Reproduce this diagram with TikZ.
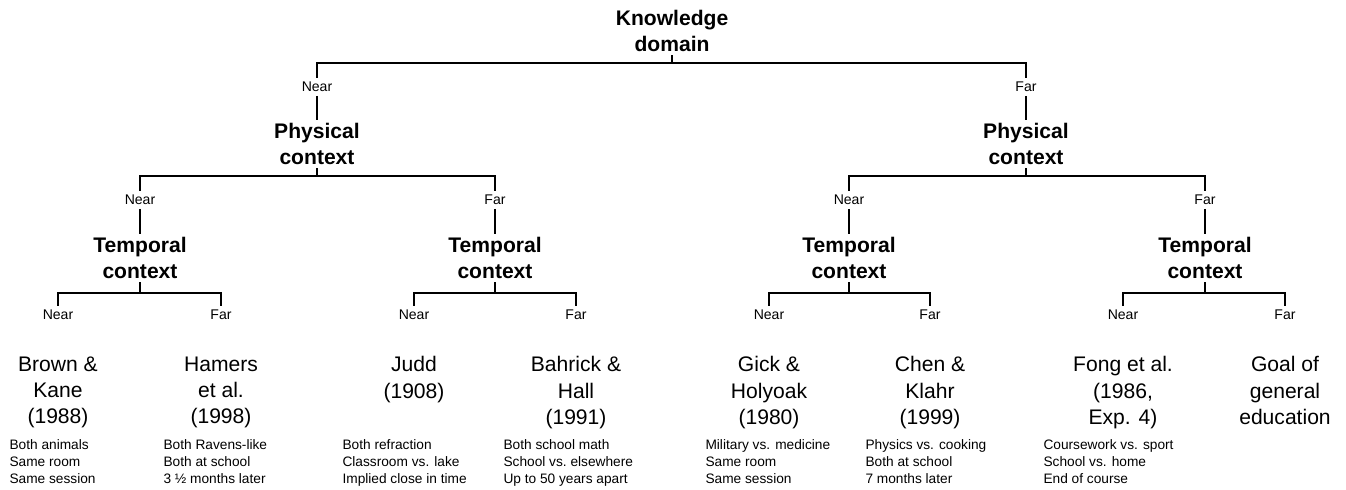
\documentclass[tikz,border=0pt]{standalone}
\usepackage{fontspec}
\setmainfont{Liberation Sans}
\usepackage{tikz}

\begin{document}
\begin{tikzpicture}[x=0.02cm, y=-0.02cm, line width=0.6pt,
    factor/.style={align=center, inner sep=2pt, font=\bfseries\fontsize{12}{14.4}\selectfont},
    branch/.style={inner sep=2pt, font=\fontsize{8}{9.6}\selectfont},
    study/.style={align=center, anchor=north, inner sep=0pt, font=\fontsize{12}{15}\selectfont},
    note/.style={align=left, anchor=north west, inner sep=0pt, font=\fontsize{7.8}{9.6}\selectfont}]
    \useasboundingbox (0,0) rectangle (1346,490);

    % Knowledge domain
    \node[factor] (know) at (672,31) {Knowledge\\domain};
    \node[branch] (nearA) at (317,87) {Near};
    \node[branch] (farA) at (1026,87) {Far};
    \draw (know.south) -- (know.south |- 0,63) -| (nearA.north);
    \draw (know.south) -- (know.south |- 0,63) -| (farA.north);

    % Physical context
    \node[factor] (physN) at (317,144) {Physical\\context};
    \node[factor] (physF) at (1026,144) {Physical\\context};
    \draw (nearA) -- (physN);
    \draw (farA) -- (physF);

    \node[branch] (nearB1) at (140,200) {Near};
    \node[branch] (farB1) at (495,200) {Far};
    \node[branch] (nearB2) at (849,200) {Near};
    \node[branch] (farB2) at (1205,200) {Far};
    \draw (physN.south) -- (physN.south |- 0,176) -| (nearB1.north);
    \draw (physN.south) -- (physN.south |- 0,176) -| (farB1.north);
    \draw (physF.south) -- (physF.south |- 0,176) -| (nearB2.north);
    \draw (physF.south) -- (physF.south |- 0,176) -| (farB2.north);

    % Temporal context
    \node[factor] (temp1) at (140,258) {Temporal\\context};
    \node[factor] (temp2) at (495,258) {Temporal\\context};
    \node[factor] (temp3) at (849,258) {Temporal\\context};
    \node[factor] (temp4) at (1205,258) {Temporal\\context};
    \draw (nearB1) -- (temp1);
    \draw (farB1) -- (temp2);
    \draw (nearB2) -- (temp3);
    \draw (farB2) -- (temp4);

    \node[branch] (near1) at (58,315) {Near};
    \node[branch] (far1) at (221,315) {Far};
    \node[branch] (near2) at (414,315) {Near};
    \node[branch] (far2) at (576,315) {Far};
    \node[branch] (near3) at (769,315) {Near};
    \node[branch] (far3) at (930,315) {Far};
    \node[branch] (near4) at (1123,315) {Near};
    \node[branch] (far4) at (1285,315) {Far};
    \foreach \t in {1,2,3,4} {
        \draw (temp\t.south) -- (temp\t.south |- 0,293) -| (near\t.north);
        \draw (temp\t.south) -- (temp\t.south |- 0,293) -| (far\t.north);
    }

    % Studies
    \node[study] (brown) at (58,356) {Brown \&\\Kane\\(1988)};
    \node[study] (hamers) at (221,356) {Hamers\\et al.\\(1998)};
    \node[study] (judd) at (414,356) {Judd\\(1908)};
    \node[study] (bahrick) at (576,356) {Bahrick \&\\Hall\\(1991)};
    \node[study] (gick) at (769,356) {Gick \&\\Holyoak\\(1980)};
    \node[study] (chen) at (930,356) {Chen \&\\Klahr\\(1999)};
    \node[study] (fong) at (1123,356) {Fong et al.\\(1986,\\Exp. 4)};
    \node[study] (goal) at (1285,356) {Goal of\\general\\education};

    % Notes
    \node[note] (brownN) at (9,439) {Both animals\\Same room\\Same session};
    \node[note] (hamersN) at (163,439) {Both Ravens-like\\Both at school\\3 ½ months later};
    \node[note] (juddN) at (342,439) {Both refraction\\Classroom vs. lake\\Implied close in time};
    \node[note] (bahrickN) at (503,439) {Both school math\\School vs.\ elsewhere\\Up to 50 years apart};
    \node[note] (gickN) at (705,439) {Military vs. medicine\\Same room\\Same session};
    \node[note] (chenN) at (865,439) {Physics vs. cooking\\Both at school\\7 months later};
    \node[note] (fongN) at (1043,439) {Coursework vs. sport\\School vs. home\\End of course};
\end{tikzpicture}
\end{document}
